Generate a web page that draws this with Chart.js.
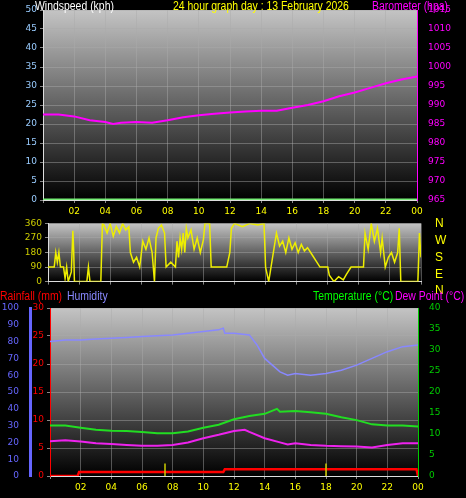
<!DOCTYPE html>
<html>
<head>
<meta charset="utf-8">
<script src="https://cdn.jsdelivr.net/npm/chart.js@4/dist/chart.umd.min.js"></script>
<style>
  body { margin: 0; background: #000; width: 466px; height: 498px; overflow: hidden; position: relative; font-family: "Liberation Sans", sans-serif; }
  canvas { position: absolute; left: 0; z-index: 1; }
  .lbl { position: absolute; font-size: 12px; white-space: nowrap; line-height: 12px; z-index: 2; transform: scaleX(0.87); transform-origin: left top; }
  .dir { position: absolute; left: 435px; color: #ff0; font-size: 12px; line-height: 12px; z-index: 2; }
</style>
</head>
<body>
<div class="lbl" style="left:35px;top:0px;color:#fff">Windspeed (kph)</div>
<div class="lbl" style="left:173px;top:0px;color:#ff0">24 hour graph day : 13 February 2026</div>
<div class="lbl" style="left:372px;top:0px;color:#f0f">Barometer (hpa)</div>
<div class="dir" style="top:217px">N</div>
<div class="dir" style="top:234px">W</div>
<div class="dir" style="top:251px">S</div>
<div class="dir" style="top:268px">E</div>
<div class="dir" style="top:284px">N</div>
<div class="lbl" style="left:0px;top:290px;color:#f00">Rainfall (mm)</div>
<div class="lbl" style="left:67px;top:290px;color:#88f">Humidity</div>
<div class="lbl" style="left:313px;top:290px;color:#0f0">Temperature (°C)</div>
<div class="lbl" style="left:395px;top:290px;color:#f0f">Dew Point (°C)</div>

<canvas id="top" width="466" height="220" style="top:0px"></canvas>
<canvas id="mid" width="466" height="75" style="top:215px"></canvas>
<canvas id="bot" width="466" height="208" style="top:290px"></canvas>

<script>
// --------------
// DATA
// --------------
const hourTicks = ["02","04","06","08","10","12","14","16","18","20","22","00"];

const pressHours = [0,1,2,3,4,4.5,5,6,7,8,9,10,11,12,13,14,15,16,17,18,19,20,21,22,23,24];
const pressure = [987.5,987.5,987,986,985.5,985,985.3,985.5,985.3,986,986.8,987.3,987.7,988,988.3,988.5,988.5,989.3,990,991,992.3,993.3,994.5,995.7,996.7,997.5];

const windHours = [0,24];
const windSpeed = [0,0];

const dirHours = [0,0.4,0.5,0.6,0.7,0.8,1.0,1.1,1.2,1.3,1.5,1.6,1.65,1.7,2.0,2.5,2.6,2.7,3.4,3.5,3.6,3.8,4.0,4.2,4.4,4.6,4.8,5.0,5.2,5.3,5.5,5.7,5.9,6.1,6.3,6.5,6.7,6.85,6.95,7.1,7.3,7.5,7.6,7.9,8.2,8.3,8.4,8.5,8.6,8.7,8.8,8.9,9.0,9.2,9.4,9.6,9.8,10.0,10.1,10.4,10.5,11.0,11.5,11.7,11.8,12.0,12.5,13.0,13.5,13.9,14.0,14.2,14.3,14.5,14.7,14.9,15.1,15.3,15.5,15.7,15.9,16.1,16.3,16.5,16.7,16.9,17.5,18.0,18.1,18.4,18.7,19.0,19.2,19.5,20.0,20.3,20.4,20.6,20.8,21.0,21.2,21.4,21.5,21.7,21.9,22.1,22.3,22.5,22.6,22.7,23.0,23.5,23.8,23.9,24];
const windDir = [90,90,180,120,180,90,90,20,90,0,60,315,200,0,0,0,90,0,0,360,350,300,360,280,340,300,360,320,340,180,120,150,90,250,200,270,180,0,270,330,350,300,90,120,90,250,150,270,200,300,180,330,270,320,200,270,180,260,360,360,90,90,90,180,330,360,340,360,350,360,90,0,60,180,300,220,250,180,270,200,240,180,230,190,210,180,90,90,40,0,30,10,45,90,90,90,300,200,360,250,330,180,270,90,150,180,120,180,330,0,0,0,0,300,150];

const humHours = [0,1,2,3,4,5,6,7,8,9,10,11,11.3,11.4,12,13,13.5,14,15,15.5,16,17,18,19,20,21,22,23,24];
const humidity = [80,81,81,81.5,82,82.5,83,83.5,84,85,86,87,88,85,85,84,78,70,62,60,61,60,61,63,66,70,74,77,78];

const tempHours = [0,1,2,3,4,5,6,7,8,9,10,11,12,13,14,14.8,15,16,17,18,19,20,21,22,23,24];
const temperature = [12,12,11.5,11,10.8,10.7,10.5,10.2,10.2,10.6,11.5,12.2,13.5,14.3,14.8,16,15.3,15.5,15.2,14.8,14,13.3,12.3,12,12,11.8];

const dewHours = [0,1,2,3,4,5,6,7,8,9,10,11,12,12.7,13,14,15,15.5,16,17,18,19,20,21,22,23,24];
const dewPoint = [8.3,8.5,8.2,7.8,7.6,7.4,7.2,7.2,7.4,8,9,9.8,10.7,11,10.5,9,8,7.5,7.8,7.4,7.2,7.1,7.0,6.8,7.4,7.8,7.8];

const rainHours = [0,1.8,1.9,11.3,11.4,23.9,24];
const rainfall = [0,0,0.7,0.7,1.2,1.2,0];

const markHours = [7.5,18];

// --------------
// HELPERS
// --------------
const pts = (xs, ys) => xs.map((x, i) => ({ x: x, y: ys[i] }));

const bgPlugin = {
  id: 'bg',
  beforeDraw(chart) {
    const { ctx, chartArea: a } = chart;
    const g = ctx.createLinearGradient(0, a.top, 0, a.bottom);
    g.addColorStop(0, '#c4c4c4');
    g.addColorStop(1, '#000');
    ctx.save();
    ctx.fillStyle = g;
    ctx.fillRect(a.left, a.top, a.right - a.left, a.bottom - a.top);
    ctx.restore();
  }
};

const grid = { color: 'rgba(170,170,170,0.45)', borderDash: [1, 2], tickColor: '#888', tickLength: 3 };
const font = { family: 'DejaVu Sans', size: 9 };
const fixW = w => ({ afterFit: s => { s.width = w; } });
const fixH = h => ({ afterFit: s => { s.height = h; } });

function xAxis(show, h) {
  return Object.assign({
    type: 'linear', min: 0, max: 24,
    grid: grid,
    border: { color: '#ddd' },
    ticks: {
      display: show, stepSize: 2, color: '#ff0', font: font, autoSkip: false,
      callback: v => v === 0 ? '' : hourTicks[v / 2 - 1]
    }
  }, fixH(h));
}

const baseOpts = {
  responsive: false, animation: false,
  plugins: { legend: { display: false }, tooltip: { enabled: false } },
  elements: { point: { radius: 0 }, line: { tension: 0 } }
};

// --------------
// TOP: wind speed + barometer
// --------------
new Chart(document.getElementById('top'), {
  type: 'line',
  data: {
    datasets: [
      { data: pts(windHours, windSpeed), borderColor: '#7e7', borderWidth: 3, yAxisID: 'ws' },
      { data: pts(pressHours, pressure), borderColor: '#f0f', borderWidth: 2, yAxisID: 'bar' }
    ]
  },
  options: Object.assign({}, baseOpts, {
    layout: { padding: { top: 10, left: 0, right: 0, bottom: 0 } },
    scales: {
      x: xAxis(true, 20),
      ws: Object.assign({ position: 'left', min: 0, max: 50, grid: grid, border: { color: '#ddd' },
        ticks: { stepSize: 5, color: '#9cf', font: font } }, fixW(43)),
      bar: Object.assign({ position: 'right', min: 965, max: 1015, grid: { display: false }, border: { color: '#f0f' },
        ticks: { stepSize: 5, color: '#f0f', font: font, callback: v => String(v) } }, fixW(49))
    }
  }),
  plugins: [bgPlugin]
});

// --------------
// MIDDLE: wind direction
// --------------
new Chart(document.getElementById('mid'), {
  type: 'line',
  data: {
    datasets: [
      { data: pts(dirHours, windDir), borderColor: '#ee0', borderWidth: 1.5, yAxisID: 'dir' }
    ]
  },
  options: Object.assign({}, baseOpts, {
    layout: { padding: { top: 8, left: 0, right: 45, bottom: 0 } },
    scales: {
      x: xAxis(false, 8),
      dir: Object.assign({ position: 'left', min: 0, max: 360, grid: grid, border: { color: '#ddd' },
        ticks: { stepSize: 90, color: '#cc0', font: font } }, fixW(48))
    }
  }),
  plugins: [bgPlugin]
});

// --------------
// BOTTOM: rain, humidity, temperature, dew point
// --------------
const markData = [];
markHours.forEach(h => { markData.push({ x: h, y: 0 }, { x: h, y: 3 }, { x: h, y: null }); });

new Chart(document.getElementById('bot'), {
  type: 'line',
  data: {
    datasets: [
      { data: pts(humHours, humidity), borderColor: '#88f', borderWidth: 1.5, yAxisID: 'hum' },
      { data: pts(tempHours, temperature), borderColor: '#2d2', borderWidth: 2, yAxisID: 'temp' },
      { data: pts(dewHours, dewPoint), borderColor: '#e2e', borderWidth: 2, yAxisID: 'temp' },
      { data: markData, borderColor: '#cc0', borderWidth: 1.5, yAxisID: 'temp', spanGaps: false },
      { data: pts(rainHours, rainfall), borderColor: '#f00', borderWidth: 2.5, yAxisID: 'rain' }
    ]
  },
  options: Object.assign({}, baseOpts, {
    layout: { padding: { top: 18, left: 0, right: 0, bottom: 0 } },
    scales: {
      x: xAxis(true, 22),
      hum: Object.assign({ position: 'left', weight: 2, min: 0, max: 100, grid: { display: false },
        border: { color: '#66f', width: 3 }, ticks: { stepSize: 10, color: '#66f', font: font } }, fixW(30)),
      rain: Object.assign({ position: 'left', weight: 1, min: 0, max: 30, grid: grid,
        border: { color: '#f00', width: 1 }, ticks: { stepSize: 5, color: '#f00', font: font } }, fixW(20)),
      temp: Object.assign({ position: 'right', min: 0, max: 40, grid: { display: false },
        border: { color: '#0c0' }, ticks: { stepSize: 5, color: '#0c0', font: font } }, fixW(48))
    }
  }),
  plugins: [bgPlugin]
});
</script>
</body>
</html>
